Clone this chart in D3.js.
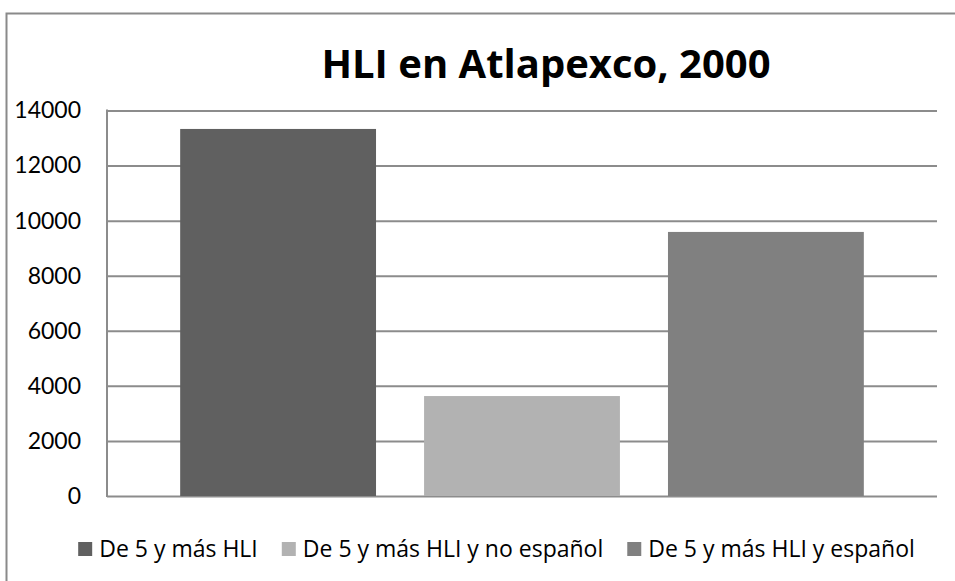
<!DOCTYPE html>
<html>
<head>
<meta charset="utf-8">
<script src="https://cdn.jsdelivr.net/npm/d3@7"></script>
<style>
  body { margin: 0; background: #fff; }
  svg { display: block; font-family: Lato, "Open Sans", sans-serif; }
</style>
</head>
<body>
<svg width="955" height="581"></svg>
<script>
// chart data
const title = "HLI en Atlapexco, 2000"
const series = ["De 5 y más HLI", "De 5 y más HLI y no español", "De 5 y más HLI y español"]
const values = [13330, 3630, 9590]
const colors = ["#606060", "#b2b2b2", "#808080"]
const yTicks = [0, 2000, 4000, 6000, 8000, 10000, 12000, 14000]

const svg = d3.select("svg")
const plot = {left: 107, right: 937, top: 110.5, bottom: 496}

// outer chart border (only top + left are inside the window)
svg.append("rect")
  .attr("x", 6.5).attr("y", 13.5)
  .attr("width", 1100).attr("height", 700)
  .attr("fill", "none").attr("stroke", "#8a8a8a").attr("stroke-width", 2)

svg.append("text")
  .attr("x", 546).attr("y", 78)
  .attr("text-anchor", "middle")
  .attr("font-family", "'Open Sans', sans-serif")
  .attr("font-weight", "bold").attr("font-size", 40)
  .attr("fill", "#000")
  .text(title)

const x = d3.scaleBand()
  .domain(series)
  .range([plot.left, plot.right])
  .paddingInner(0.197)
  .paddingOuter(0.3)

const y = d3.scaleLinear()
  .domain([0, 14000])
  .range([plot.bottom, plot.top])

// gridlines + left axis labels
const yAxis = d3.axisLeft(y)
  .tickValues(yTicks)
  .tickSize(-(plot.right - plot.left))
  .tickPadding(26)
  .tickFormat(d3.format("d"))

const ga = svg.append("g")
  .attr("transform", `translate(${plot.left},0)`)
  .call(yAxis)
ga.select(".domain").remove()
ga.selectAll(".tick line").attr("stroke", "#8c8c8c").attr("stroke-width", 2)
ga.selectAll(".tick text")
  .attr("font-family", "Lato, sans-serif")
  .attr("font-size", 23).attr("fill", "#000")

svg.append("line")
  .attr("x1", plot.left).attr("x2", plot.left)
  .attr("y1", plot.top - 1).attr("y2", plot.bottom + 1)
  .attr("stroke", "#8c8c8c").attr("stroke-width", 2)

svg.selectAll(".bar")
  .data(series)
  .enter()
  .append("rect")
  .attr("class", "bar")
  .attr("x", d => x(d))
  .attr("width", x.bandwidth())
  .attr("y", (d, i) => y(values[i]))
  .attr("height", (d, i) => y(0) - y(values[i]))
  .attr("fill", (d, i) => colors[i])

// legend, laid out from measured text widths
const legend = svg.append("g")
const items = legend.selectAll("g")
  .data(series)
  .enter()
  .append("g")
items.append("rect")
  .attr("y", 542).attr("width", 14).attr("height", 14)
  .attr("fill", (d, i) => colors[i])
items.append("text")
  .attr("x", 21).attr("y", 557)
  .attr("font-family", "'Open Sans', sans-serif")
  .attr("font-size", 23).attr("fill", "#000")
  .text(d => d)

let cx = 0
items.each(function () {
  const w = d3.select(this).select("text").node().getComputedTextLength()
  d3.select(this).attr("transform", `translate(${cx},0)`)
  cx += 21 + w + 24
})
const total = cx - 24
legend.attr("transform", `translate(${496.5 - total / 2},0)`)
</script>
</body>
</html>
